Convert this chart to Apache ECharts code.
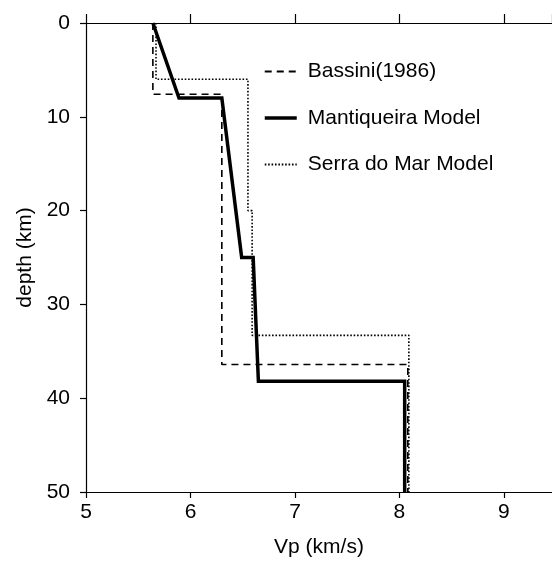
<!DOCTYPE html>
<html>
<head>
<meta charset="utf-8">
<script src="https://cdn.jsdelivr.net/npm/echarts@6/dist/echarts.min.js"></script>
<style>
html,body{margin:0;padding:0;background:#fff;}
#c{width:552px;height:563px;}
</style>
</head>
<body>
<div id="c"></div>
<script>
// Data (Vp in km/s, depth in km)
var seriesNames = ['Bassini(1986)', 'Mantiqueira Model', 'Serra do Mar Model'];
var bassiniVp = [5.64, 5.64, 6.30, 6.30, 8.08, 8.08];
var bassiniDepth = [0, 7.6, 7.6, 36.4, 36.4, 50];
var mantiqueiraVp = [5.64, 5.89, 6.30, 6.49, 6.60, 6.65, 8.05, 8.05];
var mantiqueiraDepth = [0, 8.0, 8.0, 25.0, 25.0, 38.2, 38.2, 50];
var serraVp = [5.67, 5.67, 6.55, 6.55, 6.59, 6.59, 8.09, 8.09];
var serraDepth = [0, 6.0, 6.0, 20.0, 20.0, 33.3, 33.3, 50];
var xTicks = [5, 6, 7, 8, 9];
var yTicks = [0, 10, 20, 30, 40, 50];

function pairs(xs, ys) { return xs.map(function (x, i) { return [x, ys[i]]; }); }

var FONT = '"Liberation Sans", Arial, Helvetica, sans-serif';
var FS = 21;
var chart = echarts.init(document.getElementById('c'));
var axisLine = { show: true, onZero: false, lineStyle: { color: '#000', width: 1.2 } };
chart.setOption({
  animation: false,
  backgroundColor: '#fff',
  textStyle: { fontFamily: FONT, color: '#000' },
  grid: { left: 86, top: 23, right: 0, bottom: 68, containLabel: false },
  legend: {
    orient: 'vertical', left: 263, top: 61, padding: 0, itemWidth: 32, itemHeight: 22, itemGap: 25.5,
    data: [
      { name: seriesNames[0] },
      { name: seriesNames[1], lineStyle: { width: 3.5 } },
      { name: seriesNames[2] }
    ],
    itemStyle: { opacity: 0, borderWidth: 0 },
    textStyle: { fontFamily: FONT, fontSize: FS, color: '#000', padding: [0, 0, 0, 6] },
    inactiveColor: '#000'
  },
  xAxis: [{
    type: 'value', position: 'bottom', min: 5, max: 9.46, interval: 1,
    name: 'Vp (km/s)', nameLocation: 'middle', nameGap: 45,
    nameTextStyle: { fontFamily: FONT, fontSize: FS, color: '#000' },
    axisLine: axisLine,
    axisTick: { show: true, inside: false, length: 6, lineStyle: { color: '#000', width: 1.2 } },
    axisLabel: { fontFamily: FONT, fontSize: FS, color: '#000', margin: 10, showMaxLabel: false,
      formatter: function (v) { return xTicks.indexOf(v) >= 0 ? String(v) : ''; } },
    splitLine: { show: false }
  }, {
    type: 'value', position: 'top', min: 5, max: 9.46, interval: 1,
    axisLine: axisLine,
    axisTick: { show: true, inside: false, length: 9, lineStyle: { color: '#000', width: 1.2 } },
    axisLabel: { show: false },
    splitLine: { show: false }
  }],
  yAxis: [{
    type: 'value', inverse: true, min: 0, max: 50, interval: 10,
    name: 'depth (km)', nameLocation: 'middle', nameGap: 48,
    nameTextStyle: { fontFamily: FONT, fontSize: FS, color: '#000' },
    axisLine: axisLine,
    axisTick: { show: true, inside: false, length: 6, lineStyle: { color: '#000', width: 1.2 } },
    axisLabel: { fontFamily: FONT, fontSize: FS, color: '#000', margin: 16,
      formatter: function (v) { return yTicks.indexOf(v) >= 0 ? String(v) : ''; } },
    splitLine: { show: false }
  }],
  series: [{
    name: seriesNames[0], type: 'line', symbol: 'none', data: pairs(bassiniVp, bassiniDepth),
    lineStyle: { color: '#000', width: 1.6, type: [7, 5] }, itemStyle: { color: '#000' }, z: 2
  }, {
    name: seriesNames[1], type: 'line', symbol: 'none', data: pairs(mantiqueiraVp, mantiqueiraDepth),
    lineStyle: { color: '#000', width: 3.5, join: 'miter' }, itemStyle: { color: '#000' }, z: 3
  }, {
    name: seriesNames[2], type: 'line', symbol: 'none', data: pairs(serraVp, serraDepth),
    lineStyle: { color: '#000', width: 1.6, type: [1.6, 1.8] }, itemStyle: { color: '#000' }, z: 1
  }]
});
</script>
</body>
</html>
